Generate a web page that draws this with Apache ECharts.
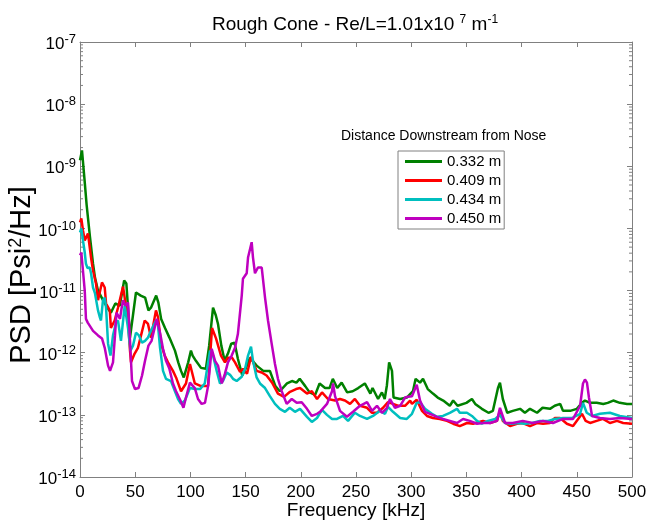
<!DOCTYPE html>
<html><head><meta charset="utf-8">
<script src="https://cdn.jsdelivr.net/npm/echarts@6/dist/echarts.min.js"></script>
<style>html,body{margin:0;padding:0;background:#fff;}#c{width:649px;height:521px;}</style>
</head><body><div id="c"></div>
<script>
const FONT = '"Liberation Sans", Arial, sans-serif';
const seriesNames = ['0.332 m', '0.409 m', '0.434 m', '0.450 m'];
const seriesColors = ['#008000', '#ff0000', '#00bfbf', '#bf00bf'];
const yDecades = [-14, -13, -12, -11, -10, -9, -8];
const minorMantissas = [2, 3, 4, 5, 6, 7, 8, 9];

// [frequency kHz, PSD Psi^2/Hz]
const green = [[0,1.25e-9],[1.8,1.8e-9],[4,6.4e-10],[6,2.4e-10],[9,7.4e-11],[11.8,2.7e-11],[13.6,1.6e-11],[16.3,1.0e-11],[20.8,7.0e-12],[25.4,5.1e-12],[28,4.4e-12],[32,6.2e-12],[36,5.7e-12],[40,1.45e-11],[42,1.3e-11],[45.3,1.75e-12],[50.7,9.3e-12],[55,8.3e-12],[59,7.7e-12],[62,4.8e-12],[64.3,5.3e-12],[69,8.3e-12],[71,6.4e-12],[73.5,3.5e-12],[77,2.5e-12],[81,1.75e-12],[86,1.08e-12],[89,7.0e-13],[91.5,5.1e-13],[94,4.0e-13],[98,7.0e-13],[100.5,1.08e-12],[102,9.0e-13],[105,7.4e-13],[109.6,5.7e-13],[114,5.5e-13],[117,1.3e-12],[120.5,5.3e-12],[123,4.0e-12],[125,2.9e-12],[128,1.3e-12],[131,7.4e-13],[134,9.7e-13],[137,1.4e-12],[140,1.45e-12],[143,8.0e-13],[147,4.3e-13],[150,5.5e-13],[154,8.3e-13],[160,6.2e-13],[166,5.1e-13],[172,5.1e-13],[177,2.9e-13],[181,2.4e-13],[187.5,3.2e-13],[192,3.5e-13],[196,3.3e-13],[199,3.8e-13],[204,2.9e-13],[208,2.3e-13],[213,2.1e-13],[217,3.2e-13],[222,2.7e-13],[226,2.7e-13],[229,3.8e-13],[233,2.7e-13],[237,3.3e-13],[242,2.3e-13],[247,2.4e-13],[252,2.7e-13],[258,3.2e-13],[263,2.2e-13],[265,2.7e-13],[270,1.8e-13],[273.5,2.3e-13],[276,1.8e-13],[278,3.0e-13],[280,7.0e-13],[282.6,5.1e-13],[284,1.9e-13],[290,1.8e-13],[296,1.9e-13],[301.6,2.4e-13],[304,3.8e-13],[308,3.3e-13],[310.7,3.8e-13],[315,2.6e-13],[319.7,2.2e-13],[324,1.9e-13],[329,1.7e-13],[335,1.4e-13],[338,1.7e-13],[342,1.4e-13],[350,1.56e-13],[355,1.8e-13],[358,1.5e-13],[364,1.25e-13],[370,1.08e-13],[374,1.16e-13],[378.6,2.7e-13],[380.4,3.3e-13],[383,1.8e-13],[387,1.08e-13],[392,1.16e-13],[398.6,1.25e-13],[403,1.08e-13],[407.6,1.25e-13],[414,1.08e-13],[419,1.3e-13],[425.7,1.25e-13],[430,1.4e-13],[435,1.5e-13],[437.5,1.16e-13],[444,1.16e-13],[450,1.25e-13],[454.7,1.56e-13],[457.4,1.7e-13],[462,1.56e-13],[468,1.56e-13],[474,1.5e-13],[478,1.56e-13],[483,1.7e-13],[489,1.56e-13],[495.5,1.5e-13],[500,1.5e-13]];

const red = [[0,1.25e-10],[1.2,1.45e-10],[2.7,9.3e-11],[4.3,6.4e-11],[7.2,8.3e-11],[10,3.4e-11],[11.8,2.1e-11],[14.5,1.3e-11],[16.3,7.0e-12],[19.9,1.35e-11],[22.4,1.12e-11],[23.6,6.2e-12],[27,4.8e-12],[28,2.5e-12],[31.4,3.3e-12],[34.4,5.3e-12],[39,1.16e-11],[40.8,1.08e-11],[43.5,3.3e-12],[45.3,1.08e-12],[46.2,7.0e-13],[49.5,9.7e-13],[52.5,1.2e-12],[55.3,1.9e-12],[58.6,3.3e-12],[61.6,2.9e-12],[64.3,1.75e-12],[68.8,4.8e-12],[70.7,3.7e-12],[73.4,1.4e-12],[76.7,9.0e-13],[79.7,7.0e-13],[84.2,5.1e-13],[87,4.0e-13],[91.5,2.4e-13],[96,3.2e-13],[99.6,6.6e-13],[104,3.2e-13],[109.6,2.9e-13],[116,2.9e-13],[119.6,2.5e-12],[123.2,1.7e-12],[127.7,9.0e-13],[131.3,7.0e-13],[134,8.3e-13],[137.7,8.3e-13],[140.4,7.0e-13],[145,4.9e-13],[147.6,5.5e-13],[151.3,4.6e-13],[154.9,8.6e-13],[160,5.1e-13],[164.6,4.8e-13],[169,4.3e-13],[174,3.3e-13],[179.3,2.2e-13],[184.8,1.95e-13],[190.2,2.35e-13],[195.7,2.6e-13],[199.3,2.7e-13],[205.6,2.2e-13],[210,2.4e-13],[214.7,1.8e-13],[219.2,2.3e-13],[224.6,1.8e-13],[231,1.7e-13],[235.5,1.8e-13],[240,1.7e-13],[244.6,1.5e-13],[249,1.8e-13],[253.6,1.4e-13],[260,1.3e-13],[264.5,1.08e-13],[269,1.08e-13],[274.5,1.3e-13],[279,1.6e-13],[283.5,1.5e-13],[288,1.4e-13],[294.4,1.4e-13],[299,1.7e-13],[300.7,1.5e-13],[305,1.75e-13],[309.8,1.16e-13],[314.3,9.6e-14],[319.7,8.9e-14],[326,8.6e-14],[332.4,8.0e-14],[338,7.2e-14],[344,6.6e-14],[350.5,7.4e-14],[356,7.2e-14],[365,8.0e-14],[371.4,7.4e-14],[377.7,8.0e-14],[380.4,1.16e-13],[383,8.0e-14],[389.5,6.6e-14],[395.8,7.2e-14],[401,7.4e-14],[407.6,6.6e-14],[414,7.4e-14],[419.4,7.2e-14],[425.7,7.4e-14],[430,8.9e-14],[434.8,8.9e-14],[441,7.2e-14],[446.6,6.6e-14],[454.7,1.04e-13],[458,8.0e-14],[462,7.4e-14],[468,8.0e-14],[473.7,8.6e-14],[480,7.4e-14],[486.4,8.0e-14],[492,7.4e-14],[500,7.2e-14]];

const cyan = [[0,8.6e-11],[1.2,1.0e-10],[2.7,6.4e-11],[4.3,4.1e-11],[5.4,2.7e-11],[6.8,2.3e-11],[8.8,2.35e-11],[10,1.9e-11],[11.8,1.12e-11],[13.6,9.0e-12],[16.3,4.8e-12],[18,3.7e-12],[19,3.3e-12],[20.8,7.0e-12],[22.4,7.7e-12],[23.6,5.3e-12],[25.4,1.4e-12],[27.6,9.0e-13],[29.9,1.9e-12],[32.6,3.05e-12],[34.4,3.3e-12],[37.1,1.55e-12],[40.5,5.7e-12],[41.7,5.7e-12],[43.5,2.5e-12],[45.7,1.08e-12],[48,1.3e-12],[50.7,2.1e-12],[53.4,1.9e-12],[56.2,1.45e-12],[58.9,1.55e-12],[61.6,1.75e-12],[64.3,2.25e-12],[68.8,3.3e-12],[70.7,2.7e-12],[72.5,1.2e-12],[75.2,5.1e-13],[77.9,3.8e-13],[82.4,3.5e-13],[86,2.4e-13],[88.8,1.8e-13],[91.5,1.5e-13],[95,1.7e-13],[99.6,2.7e-13],[104,2.6e-13],[108.7,2.6e-13],[113,3.2e-13],[117.8,1.08e-12],[120.5,9.0e-13],[123.8,5.1e-13],[126.8,3.2e-13],[129.5,3.5e-13],[132.9,4.8e-13],[135.9,4.4e-13],[138.6,3.8e-13],[141.9,3.5e-13],[146.5,4.1e-13],[149.5,5.5e-13],[152.2,9.0e-13],[154.9,1.25e-12],[156.7,7.4e-13],[160,4.0e-13],[163,3.2e-13],[167.6,2.7e-13],[172,2.0e-13],[176.6,1.5e-13],[181,1.25e-13],[185.7,1.12e-13],[190,1.3e-13],[194.7,1.12e-13],[199.3,1.25e-13],[205.6,9.3e-14],[210,7.7e-14],[214.7,8.9e-14],[219.2,1.2e-13],[223.7,1.0e-13],[228.3,8.6e-14],[232.8,8.6e-14],[238.2,9.6e-14],[242.8,8.0e-14],[249,1.08e-13],[253.6,9.6e-14],[260,8.6e-14],[265.4,9.6e-14],[271.7,1.16e-13],[276.3,1.04e-13],[279,1.35e-13],[283.5,1.12e-13],[290,8.9e-14],[296,8.6e-14],[300.7,1.04e-13],[305,1.56e-13],[308,1.6e-13],[312.5,1.25e-13],[318.8,1.04e-13],[323.4,9.3e-14],[328.8,9.6e-14],[335,1.08e-13],[341.5,1.25e-13],[344,1.08e-13],[350.5,1.08e-13],[355,9.6e-14],[359.6,8.0e-14],[364,7.2e-14],[369.6,8.0e-14],[376,8.6e-14],[380.4,1.0e-13],[385,7.4e-14],[391,7.2e-14],[396.7,7.4e-14],[403,7.2e-14],[409.4,7.4e-14],[416.7,8.0e-14],[424,8.0e-14],[430,8.6e-14],[437.5,8.9e-14],[445.7,8.9e-14],[453,1.04e-13],[455.6,1.56e-13],[459,1.08e-13],[463.8,9.6e-14],[471,1.04e-13],[480,1.08e-13],[489,9.6e-14],[500,8.9e-14]];

const magenta = [[0,3.7e-11],[1.2,4.1e-11],[4.3,1.0e-11],[5.4,3.5e-12],[7,3.05e-12],[11.8,2.25e-12],[16.3,1.9e-12],[19.9,1.7e-12],[22.4,1.2e-12],[25.4,6.2e-13],[27.2,5.1e-13],[29.9,7.0e-13],[31.7,1.9e-12],[33,4.4e-12],[36.2,3.5e-12],[37.6,5.1e-12],[39,7.0e-12],[41.2,5.7e-12],[43.5,6.4e-12],[45.3,1.55e-12],[47.1,3.5e-13],[49.8,2.6e-13],[53,2.7e-13],[56.2,4.3e-13],[58.9,7.4e-13],[62,1.3e-12],[64.8,1.55e-12],[68,2.7e-12],[69.5,3.5e-12],[72.5,2.1e-12],[75.2,1.16e-12],[77.9,7.4e-13],[81,5.5e-13],[84.2,3.2e-13],[87,2.4e-13],[91,1.7e-13],[93.7,1.3e-13],[96,1.9e-13],[99.6,3.3e-13],[104,2.7e-13],[106.9,1.8e-13],[110.2,1.5e-13],[113.2,1.56e-13],[116,2.9e-13],[119.3,1.16e-12],[122.3,7.4e-13],[125,6.2e-13],[128.4,3.2e-13],[131.3,4.6e-13],[134,7.0e-13],[137.4,9.0e-13],[140.4,1.2e-12],[143,2.0e-12],[146.5,8.3e-12],[147.6,1.55e-11],[151,1.9e-11],[152.2,3.4e-11],[155.5,6.0e-11],[156.7,3.4e-11],[158.5,1.9e-11],[161.2,2.35e-11],[164.6,2.35e-11],[167.6,7.7e-12],[170.3,3.3e-12],[173.6,1.4e-12],[176.6,6.6e-13],[179.3,3.8e-13],[182.7,2.4e-13],[187.2,1.5e-13],[191.8,1.8e-13],[196.3,1.56e-13],[200.8,1.6e-13],[205.6,1.25e-13],[210,9.6e-14],[214.7,1.04e-13],[217.4,1.12e-13],[223.7,1.5e-13],[228.3,2.4e-13],[229.2,3.2e-13],[231,2.0e-13],[235.5,1.16e-13],[241.8,9.3e-14],[247.3,1.12e-13],[253.6,1.4e-13],[260,1.6e-13],[264.5,1.16e-13],[269,1.4e-13],[273.5,1.08e-13],[278,1.3e-13],[280.8,1.8e-13],[285.3,1.3e-13],[290,1.4e-13],[294.4,1.9e-13],[297,1.95e-13],[300.7,2.0e-13],[305,3.05e-13],[308,1.7e-13],[312.5,1.12e-13],[317,1.04e-13],[323.4,9.3e-14],[328.8,8.6e-14],[335,8.0e-14],[341.5,7.4e-14],[347,8.6e-14],[353,8.0e-14],[359.6,7.2e-14],[365,7.4e-14],[371.4,7.4e-14],[377.7,8.0e-14],[380.4,1.3e-13],[385,7.4e-14],[392,7.4e-14],[401,8.0e-14],[410,7.4e-14],[419.4,8.0e-14],[428.4,7.4e-14],[437.5,8.6e-14],[446.6,8.6e-14],[453,1.4e-13],[455.6,3.2e-13],[457.4,3.7e-13],[459.2,3.3e-13],[461,1.9e-13],[463.8,9.6e-14],[471,8.9e-14],[480,8.6e-14],[489,8.9e-14],[500,8.6e-14]];

const seriesData = [green, red, cyan, magenta];
const toLog = d => d.map(p => [p[0], Math.log10(p[1])]);

const minorTicks = [];
yDecades.forEach(d => minorMantissas.forEach(m => minorTicks.push([0, d + Math.log10(m)])));

const AX = '#808080';
const chart = echarts.init(document.getElementById('c'), null, {renderer: 'canvas'});

const baseX = {
  type: 'value', min: 0, max: 500, interval: 50,
  axisLine: {onZero: false, lineStyle: {color: AX, width: 1}},
  axisTick: {inside: true, length: 5, lineStyle: {color: AX}},
  splitLine: {show: false}
};
const baseY = {
  type: 'value', min: -14, max: -7, interval: 1,
  axisLine: {onZero: false, lineStyle: {color: AX, width: 1}},
  axisTick: {inside: true, length: 5, lineStyle: {color: AX}},
  splitLine: {show: false}
};

const option = {
  animation: false,
  backgroundColor: '#fff',
  textStyle: {fontFamily: FONT},
  title: {
    text: '{a|Rough Cone - Re/L=1.01x10 }{s|7}{a| m}{s|-1}',
    left: 350, top: 9, textAlign: 'center',
    textStyle: {
      fontWeight: 'normal',
      rich: {
        a: {fontSize: 19, fontFamily: FONT, color: '#000', lineHeight: 22, fontWeight: 'normal'},
        s: {fontSize: 12, fontFamily: FONT, color: '#000', lineHeight: 12, verticalAlign: 'top', fontWeight: 'normal'}
      }
    }
  },
  grid: {left: 80, right: 17, top: 42, bottom: 44, containLabel: false, outerBoundsMode: 'none'},
  legend: {
    data: seriesNames,
    orient: 'vertical',
    left: 398, top: 151,
    icon: 'rect', itemWidth: 37, itemHeight: 3, itemGap: 4,
    padding: [3, 3, 3, 7],
    borderColor: AX, borderWidth: 1, backgroundColor: '#fff',
    selectedMode: false,
    textStyle: {fontSize: 15, color: '#000', fontFamily: FONT, lineHeight: 15}
  },
  graphic: [{
    type: 'text', left: 341, top: 129, z: 10,
    style: {text: 'Distance Downstream from Nose', fontSize: 14, fontFamily: FONT, fill: '#000'}
  }, {
    type: 'text', x: 22, y: 275, rotation: Math.PI / 2, z: 10,
    style: {
      text: '{a|PSD [Psi}{s|2}{a|/Hz]}', align: 'center', verticalAlign: 'middle',
      rich: {
        a: {fontSize: 29, fontFamily: FONT, fill: '#000', lineHeight: 30},
        s: {fontSize: 18, fontFamily: FONT, fill: '#000', lineHeight: 18, verticalAlign: 'top'}
      }
    }
  }],
  xAxis: [
    Object.assign({}, baseX, {
      position: 'bottom',
      axisLabel: {fontSize: 17, color: '#000', margin: 7, fontFamily: FONT},
      name: 'Frequency [kHz]', nameLocation: 'middle', nameGap: 24, nameMoveOverlap: false,
      nameTextStyle: {fontSize: 19, color: '#000', fontFamily: FONT}
    }),
    Object.assign({}, baseX, {position: 'top', axisLabel: {show: false}})
  ],
  yAxis: [
    Object.assign({}, baseY, {
      position: 'left',
      axisLabel: {
        margin: 4, color: '#000',
        formatter: v => '{b|10}{s|' + v + '}',
        rich: {
          b: {fontSize: 17, fontFamily: FONT, color: '#000', lineHeight: 18, padding: [5, 0, 0, 0]},
          s: {fontSize: 13, fontFamily: FONT, color: '#000', lineHeight: 13, verticalAlign: 'top'}
        }
      }
    }),
    Object.assign({}, baseY, {position: 'right', axisLabel: {show: false}})
  ],
  series: seriesData.map((d, i) => ({
    name: seriesNames[i], type: 'line', data: toLog(d),
    showSymbol: false, symbol: 'none', smooth: false,
    color: seriesColors[i],
    lineStyle: {width: 2.5, color: seriesColors[i]},
    emphasis: {disabled: true}, silent: true, z: 2 + i
  })).concat([{
    type: 'custom', name: 'minorTicks', silent: true, z: 1,
    data: minorTicks, encode: {x: 0, y: 1},
    renderItem: (params, api) => {
      const v = api.value(1);
      const l = api.coord([0, v]);
      const r = api.coord([500, v]);
      return {type: 'group', children: [
        {type: 'line', shape: {x1: l[0], y1: l[1], x2: l[0] + 3, y2: l[1]}, style: {stroke: AX, lineWidth: 1}},
        {type: 'line', shape: {x1: r[0] - 3, y1: r[1], x2: r[0], y2: r[1]}, style: {stroke: AX, lineWidth: 1}}
      ]};
    }
  }])
};
chart.setOption(option);
</script></body></html>
